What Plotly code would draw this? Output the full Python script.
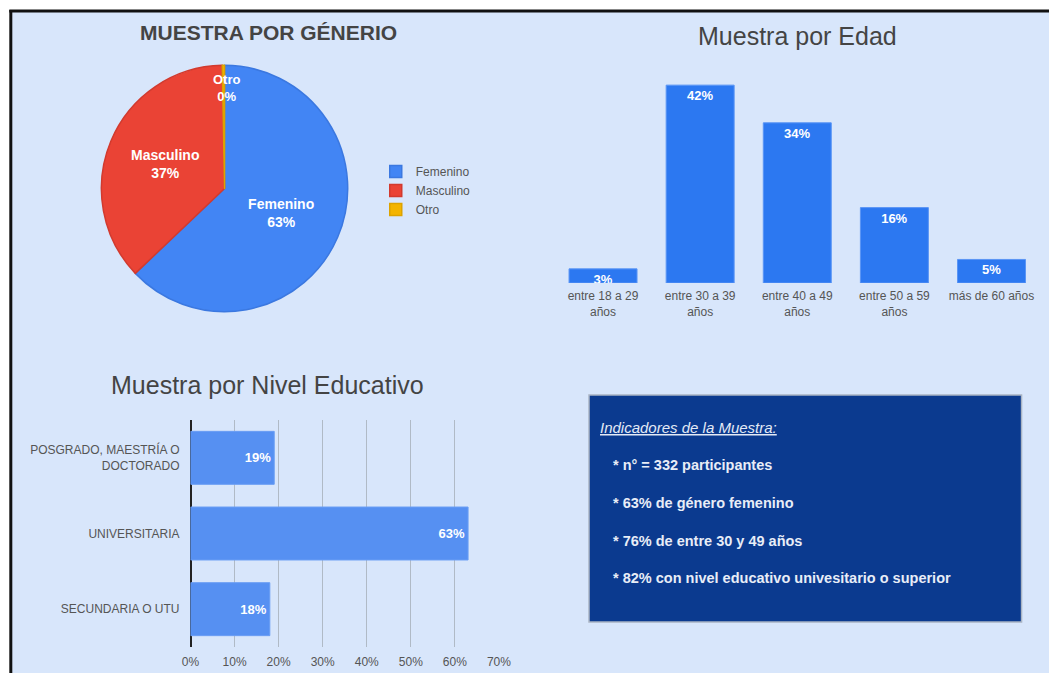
import plotly.graph_objects as go

W, H = 1061, 673
FONT = "Liberation Sans, Arial, sans-serif"

# ---------------- data ----------------
genero_labels = ["Femenino", "Masculino", "Otro"]
genero_values = [62.9, 36.8, 0.3]
genero_colors = ["#4285F4", "#EA4335", "#F4B400"]
genero_lines = ["#3B78E0", "#D23A2E", "#DDA300"]

edad_labels = ["entre 18 a 29<br>años", "entre 30 a 39<br>años", "entre 40 a 49<br>años",
               "entre 50 a 59<br>años", "más de 60 años"]
edad_values = [3, 42, 34, 16, 5]

edu_labels = ["POSGRADO, MAESTRÍA O<br>DOCTORADO", "UNIVERSITARIA", "SECUNDARIA O UTU"]
edu_values = [19, 63, 18]

indicadores_titulo = "Indicadores de la Muestra:"
indicadores = ["* n° = 332 participantes",
               "* 63% de género femenino",
               "* 76% de entre 30 y 49 años",
               "* 82% con nivel educativo univesitario o superior"]

# horizontal compensation for how the page is captured
SX, OX = 0.979, 8.7


def px(x):
    return ((x - OX) / SX) / W


def py(y):
    return 1 - y / H


fig = go.Figure()

total = sum(genero_values)
fig.add_trace(go.Pie(
    labels=genero_labels, values=genero_values, sort=False,
    direction="clockwise", rotation=0,
    marker=dict(colors=genero_colors, line=dict(color=genero_lines, width=1.5)),
    texttemplate="<b>%{label}<br>%{percent:.0%}</b>",
    textposition=["inside", "inside", "none"], insidetextorientation="horizontal",
    textfont=dict(family=FONT, size=14, color="white"),
    domain=dict(x=[px(101), px(347)], y=[py(315), py(62)]),
    hoverinfo="label+percent", showlegend=True,
))

fig.add_trace(go.Bar(
    x=edad_labels, y=edad_values, xaxis="x", yaxis="y",
    marker=dict(color="#2C78F1", line=dict(color="#5A95F5", width=1)),
    text=[f"<b>{v}%</b>" for v in edad_values], textposition="inside",
    insidetextanchor="end", constraintext="none",
    textfont=dict(family=FONT, size=13, color="white"),
    showlegend=False,
))

fig.add_trace(go.Bar(
    y=edu_labels, x=edu_values, orientation="h", xaxis="x2", yaxis="y2",
    marker=dict(color="#5690F2", line=dict(color="#6A9EF4", width=1)),
    text=[f"<b>{v}%</b>" for v in edu_values], textposition="inside",
    insidetextanchor="end", constraintext="none",
    textfont=dict(family=FONT, size=12, color="white"),
    showlegend=False,
))

shapes = [
    dict(type="rect", xref="paper", yref="paper", x0=px(10), x1=1.0, y0=py(673), y1=py(10),
         fillcolor="#D8E6FB", line=dict(width=0), layer="below"),
    dict(type="line", xref="paper", yref="paper", x0=px(10.5), x1=px(10.5), y0=py(673), y1=py(10),
         line=dict(color="#111111", width=3), layer="below"),
    dict(type="line", xref="paper", yref="paper", x0=px(9), x1=1.0, y0=py(11), y1=py(11),
         line=dict(color="#111111", width=3), layer="below"),
    dict(type="rect", xref="paper", yref="paper", x0=px(588), x1=px(1020), y0=py(622), y1=py(395),
         fillcolor="#0B3A8F", line=dict(color="#A9B4C4", width=1.5), layer="below"),
]

otro_pct = round(100 * genero_values[2] / total)
annotations = [
    dict(text="<b>MUESTRA POR GÉNERIO</b>", x=px(268), y=py(32), xref="paper", yref="paper",
         showarrow=False, font=dict(family=FONT, size=21, color="#444444"), xanchor="center", yanchor="middle"),
    dict(text=f"<b>{genero_labels[2]}<br>{otro_pct}%</b>", x=px(226), y=py(88), xref="paper", yref="paper",
         showarrow=False, font=dict(family=FONT, size=13, color="white"), xanchor="center", yanchor="middle"),
    dict(text="Muestra por Edad", x=px(796), y=py(36), xref="paper", yref="paper",
         showarrow=False, font=dict(family=FONT, size=25, color="#444444"), xanchor="center", yanchor="middle"),
    dict(text="Muestra por Nivel Educativo", x=px(267), y=py(385), xref="paper", yref="paper",
         showarrow=False, font=dict(family=FONT, size=25, color="#444444"), xanchor="center", yanchor="middle"),
    dict(text=f"<i><u>{indicadores_titulo}</u></i>", x=px(597), y=py(427), xref="paper", yref="paper",
         showarrow=False, font=dict(family=FONT, size=15, color="#E4EAF6"), xanchor="left", yanchor="middle"),
]
for t, yy in zip(indicadores, [465, 503, 541, 578]):
    annotations.append(dict(text=f"<b>{t}</b>", x=px(610), y=py(yy), xref="paper", yref="paper",
                            showarrow=False, font=dict(family=FONT, size=14.5, color="#E8EDF7"),
                            xanchor="left", yanchor="middle"))

fig.update_layout(
    width=W, height=H, autosize=False,
    margin=dict(l=0, r=0, t=0, b=0),
    paper_bgcolor="white", plot_bgcolor="rgba(0,0,0,0)",
    font=dict(family=FONT, color="#555555"),
    bargap=0.30,
    uniformtext=dict(minsize=13, mode="show"),
    xaxis=dict(domain=[px(553.5), px(1038.5)], anchor="y", showgrid=False, showline=False, zeroline=False,
               ticks="", ticklabelstandoff=4, tickfont=dict(family=FONT, size=12, color="#555555"),
               fixedrange=True),
    yaxis=dict(domain=[py(283), py(71)], anchor="x", range=[0, 45], visible=False, fixedrange=True),
    xaxis2=dict(domain=[px(190), px(498)], anchor="y2", range=[0, 70], dtick=10, ticksuffix="%",
                showgrid=True, gridcolor="#B0BAC6", gridwidth=1, zeroline=True, zerolinecolor="#222222",
                zerolinewidth=2, showline=False, ticks="", ticklabelstandoff=6,
                tickfont=dict(family=FONT, size=12, color="#555555"), fixedrange=True),
    yaxis2=dict(domain=[py(647), py(420)], anchor="x2", autorange="reversed", showgrid=False,
                showline=False, zeroline=False, ticks="", ticklabelstandoff=10,
                tickfont=dict(family=FONT, size=12, color="#555555"), fixedrange=True),
    legend=dict(x=px(375), y=py(157), xanchor="left", yanchor="top", bgcolor="rgba(0,0,0,0)",
                font=dict(family=FONT, size=12, color="#555555"), itemwidth=30),
    shapes=shapes,
    annotations=annotations,
)

fig.write_html(
    "out.html",
    config={"responsive": False, "displayModeBar": False},
    post_script=("document.body.style.margin='0';document.body.style.overflow='hidden';"
                 "document.body.style.background='linear-gradient(to right, #ffffff 9px, #D8E6FB 9px)';"),
)
